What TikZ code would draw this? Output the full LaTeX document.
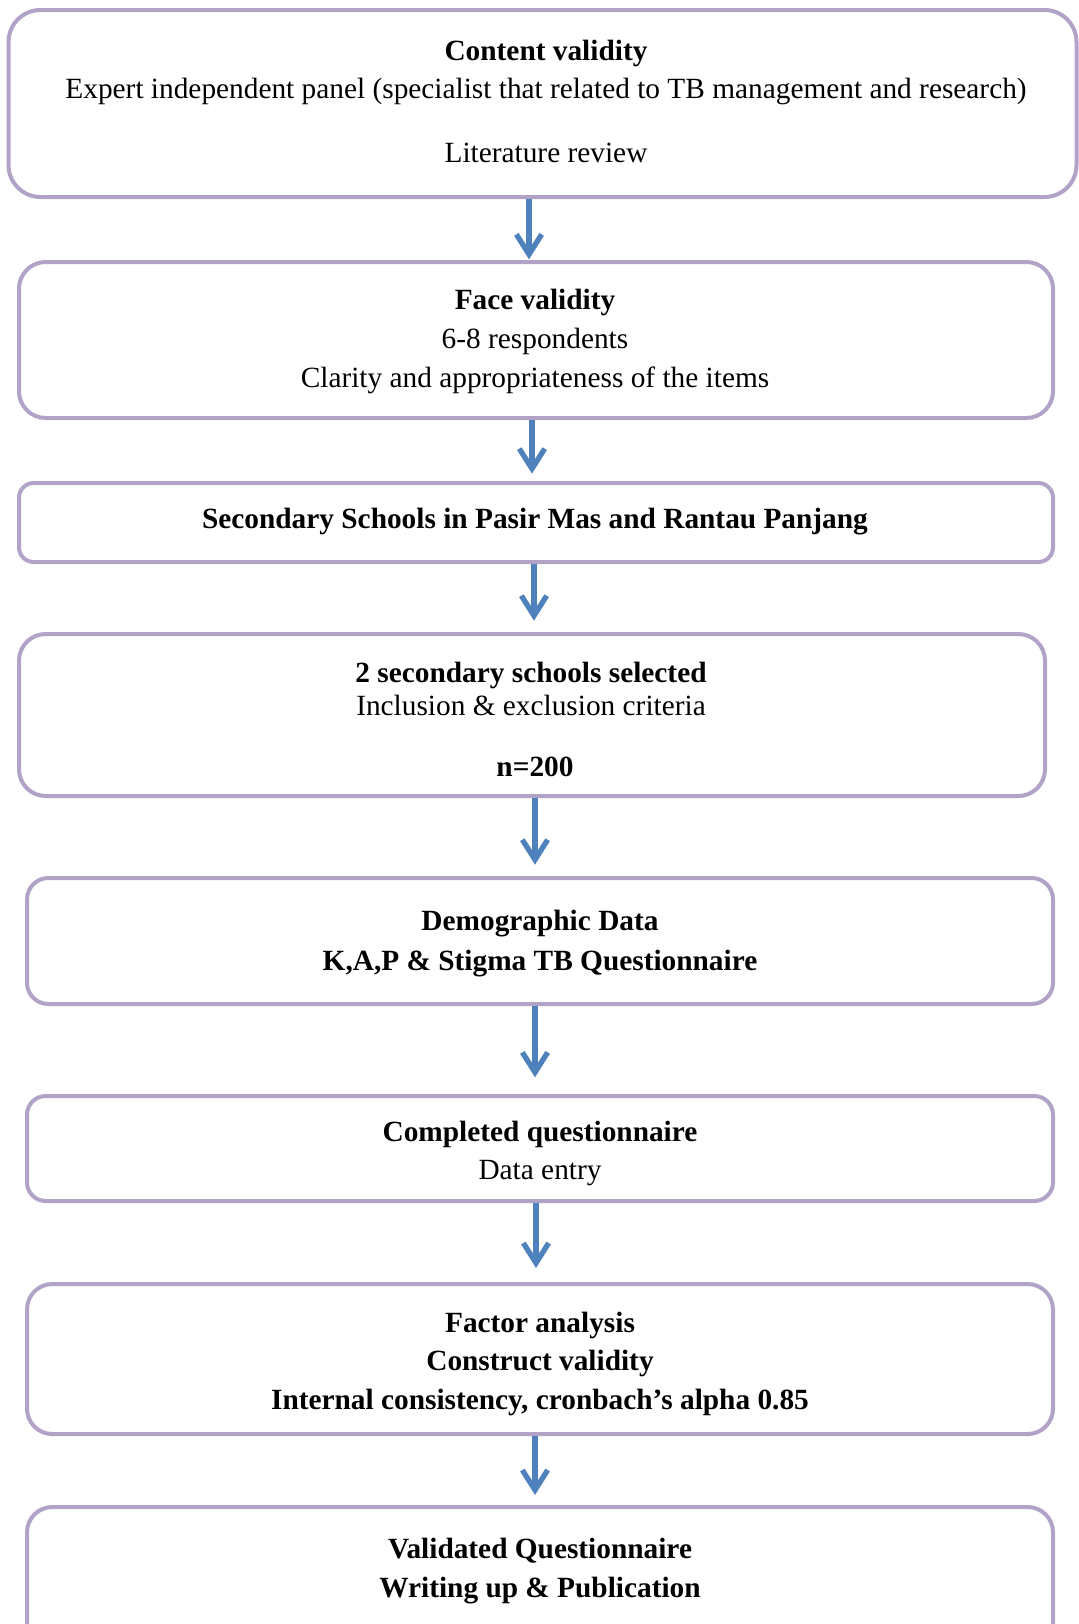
\documentclass[tikz,border=0pt]{standalone}
\usepackage{fontspec}
\setmainfont{Liberation Serif}
\usetikzlibrary{arrows.meta}
\definecolor{boxline}{HTML}{B3A2C7}
\definecolor{arrowblue}{HTML}{4F81BD}
\tikzset{
  box/.style={draw=boxline, line width=3pt, fill=white, inner sep=0pt},
  txt/.style={font=\fontsize{22}{26}\selectfont, inner sep=0pt, anchor=center, text height=0.68em, text depth=0pt},
  btxt/.style={txt, font=\fontsize{22}{26}\selectfont\bfseries},
  flow/.style={draw=arrowblue, line width=4.5pt, -{Straight Barb[length=15pt,width=19pt,line width=4pt]}}
}
\begin{document}
\begin{tikzpicture}[x=0.75pt,y=-0.75pt]
\useasboundingbox (0,0) rectangle (1078,1624);
% boxes
\node[box, rounded corners=24pt, minimum width=1068*0.75pt, minimum height=187*0.75pt] (b1) at (542.5,103.5) {};
\node[box, rounded corners=20pt, minimum width=1034*0.75pt, minimum height=156*0.75pt] (b2) at (536,340) {};
\node[box, rounded corners=11pt, minimum width=1034*0.75pt, minimum height=79*0.75pt] (b3) at (536,522.5) {};
\node[box, rounded corners=20pt, minimum width=1026*0.75pt, minimum height=162*0.75pt] (b4) at (532,715) {};
\node[box, rounded corners=16pt, minimum width=1026*0.75pt, minimum height=126*0.75pt] (b5) at (540,941) {};
\node[box, rounded corners=14pt, minimum width=1026*0.75pt, minimum height=105*0.75pt] (b6) at (540,1148.5) {};
\node[box, rounded corners=19pt, minimum width=1026*0.75pt, minimum height=150*0.75pt] (b7) at (540,1359) {};
\node[box, rounded corners=19pt, minimum width=1026*0.75pt, minimum height=150*0.75pt] (b8) at (540,1582) {};
% texts
\begin{scope}[yshift=-4.5pt]
\node[btxt] (t1a) at (546,50) {Content validity};
\node[txt] (t1b) at (546,88) {Expert independent panel (specialist that related to TB management and research)};
\node[txt] (t1c) at (546,152) {Literature review};
\node[btxt] (t2a) at (535,299) {Face validity};
\node[txt] (t2b) at (535,338) {6-8 respondents};
\node[txt] (t2c) at (535,377) {Clarity and appropriateness of the items};
\node[btxt] (t3a) at (535,518) {Secondary Schools in Pasir Mas and Rantau Panjang};
\node[btxt] (t4a) at (531,672) {2 secondary schools selected};
\node[txt] (t4b) at (531,705) {Inclusion \& exclusion criteria};
\node[btxt] (t4c) at (535,766) {n=200};
\node[btxt] (t5a) at (540,920) {Demographic Data};
\node[btxt] (t5b) at (540,960) {K,A,P \& Stigma TB Questionnaire};
\node[btxt] (t6a) at (540,1131) {Completed questionnaire};
\node[txt] (t6b) at (540,1169) {Data entry};
\node[btxt] (t7a) at (540,1322) {Factor analysis};
\node[btxt] (t7b) at (540,1360) {Construct validity};
\node[btxt] (t7c) at (540,1399) {Internal consistency, cronbach's alpha 0.85};
\node[btxt] (t8a) at (540,1548) {Validated Questionnaire};
\node[btxt] (t8b) at (540,1587) {Writing up \& Publication};
\end{scope}
% arrows
\draw[flow] (529,0 |- b1.south) -- ([yshift=0.5pt]529,0 |- b2.north);
\draw[flow] (532,0 |- b2.south) -- ([yshift=5.5pt]532,0 |- b3.north);
\draw[flow] (534,0 |- b3.south) -- ([yshift=8.5pt]534,0 |- b4.north);
\draw[flow] (535,0 |- b4.south) -- ([yshift=8.5pt]535,0 |- b5.north);
\draw[flow] (535,0 |- b5.south) -- ([yshift=12.5pt]535,0 |- b6.north);
\draw[flow] (536,0 |- b6.south) -- ([yshift=10.5pt]536,0 |- b7.north);
\draw[flow] (535,0 |- b7.south) -- ([yshift=7.5pt]535,0 |- b8.north);
\end{tikzpicture}
\end{document}
